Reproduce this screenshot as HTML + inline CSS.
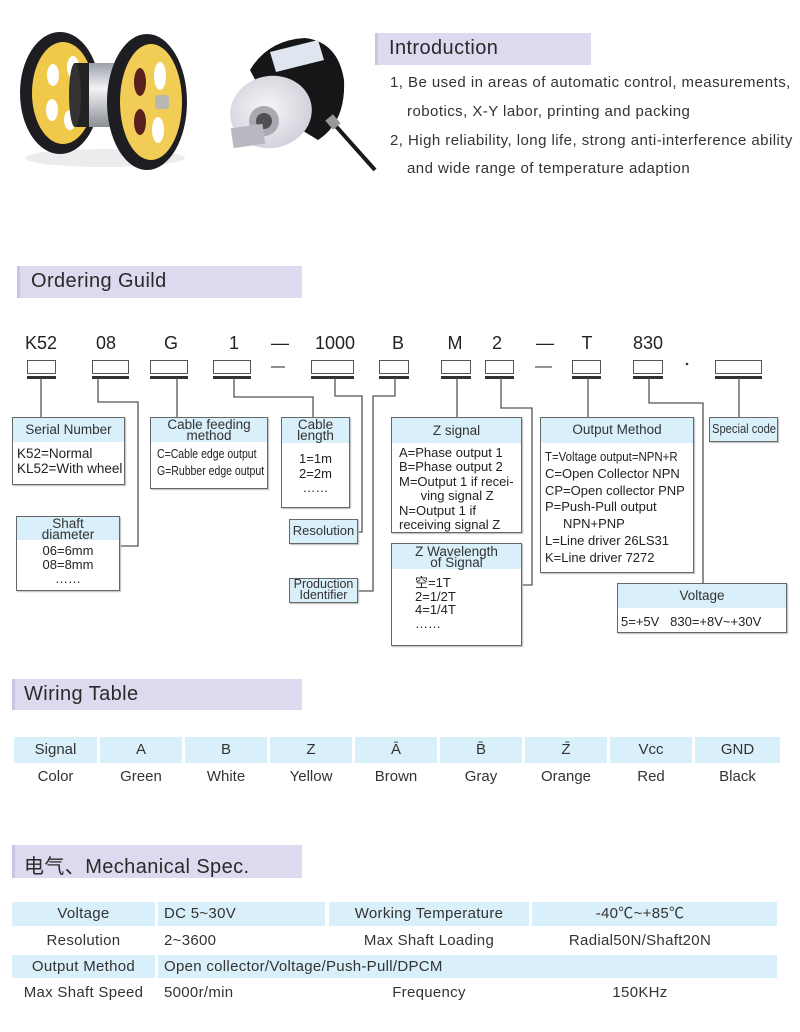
<!DOCTYPE html>
<html><head><meta charset="utf-8">
<style>
*{margin:0;padding:0;box-sizing:border-box}
body{width:800px;height:1032px;background:#fff;position:relative;overflow:hidden;font-family:"Liberation Sans","Noto Sans CJK SC",sans-serif;color:#333}
.a{position:absolute;white-space:nowrap}
.band{position:absolute;background:#dcdaef;border-left:3px solid #c9c5e3}
.band span{position:absolute;left:11px;font-size:20px;color:#2a2a2a;letter-spacing:0.4px;white-space:nowrap}
.intro{font-size:15px;color:#333;letter-spacing:0.45px}
.code{font-size:18px;color:#222;text-align:center;width:60px;margin-left:-30px}
.cb{position:absolute;top:360px;height:14px;border:1px solid #555;background:#fff}
.cb:after{content:"";position:absolute;left:-1px;right:-1px;top:15px;height:3px;background:#333}
.box{position:absolute;border:1.5px solid #666;background:#fff;box-shadow:1px 1px 1px #bbb;white-space:nowrap}
.hd{position:absolute;left:0;right:0;top:0;background:#d9eff9;text-align:center;font-size:13.5px;color:#333}
.ln{position:absolute;font-size:13px;color:#222;white-space:nowrap}
.nar{display:inline-block;transform:scaleX(0.84);transform-origin:left center;white-space:nowrap}
.wt{position:absolute;font-size:15px;text-align:center;color:#333}
.blue{background:#d9eff9}
.ms{position:absolute;font-size:15px;color:#333;letter-spacing:0.3px;white-space:nowrap;line-height:20px;height:20px}
</style></head><body>

<!-- product images -->
<svg class="a" style="left:0;top:0" width="380" height="200">
  <defs>
    <linearGradient id="sil" x1="0" y1="0" x2="0" y2="1">
      <stop offset="0" stop-color="#9aa0a8"/><stop offset="0.4" stop-color="#f2f3f6"/><stop offset="1" stop-color="#8a8f96"/>
    </linearGradient>
    <radialGradient id="face" cx="0.45" cy="0.45" r="0.6">
      <stop offset="0" stop-color="#f6f6fa"/><stop offset="1" stop-color="#cfd0d8"/>
    </radialGradient>
  </defs>
  <ellipse cx="105" cy="158" rx="80" ry="9" fill="#ececee"/>
  <!-- left wheel -->
  <ellipse cx="60" cy="93" rx="40" ry="61" fill="#1e1e22"/>
  <ellipse cx="63" cy="93" rx="31" ry="51" fill="#f1c94a"/>
  <ellipse cx="53" cy="75" rx="6" ry="11" fill="#fff"/>
  <ellipse cx="73" cy="67" rx="6" ry="11" fill="#fff"/>
  <ellipse cx="52" cy="110" rx="6" ry="11" fill="#fff"/>
  <ellipse cx="70" cy="120" rx="6" ry="10" fill="#fff"/>
  <!-- cylinder -->
  <rect x="75" y="63" width="45" height="64" fill="url(#sil)"/>
  <rect x="75" y="63" width="14" height="64" fill="#222"/>
  <ellipse cx="75" cy="95" rx="6" ry="32" fill="#333"/>
  <!-- right wheel -->
  <ellipse cx="147" cy="102" rx="40" ry="68" fill="#1e1e22"/>
  <ellipse cx="151" cy="102" rx="31" ry="58" fill="#f2cd56"/>
  <ellipse cx="160" cy="76" rx="6" ry="14" fill="#fff"/>
  <ellipse cx="140" cy="82" rx="6" ry="14" fill="#5a2020"/>
  <ellipse cx="140" cy="122" rx="6" ry="13" fill="#5a2020"/>
  <ellipse cx="158" cy="130" rx="6" ry="13" fill="#fff"/>
  <rect x="155" y="95" width="14" height="14" rx="3" fill="#b8b8b0"/>
  <!-- encoder -->
  <path d="M250 70 Q268 40 305 38 Q338 42 344 80 Q346 122 318 140 L272 112 Z" fill="#161618"/>
  <path d="M270 52 L318 40 L324 60 L276 72 Z" fill="#dfe6f0"/>
  <ellipse cx="271" cy="112" rx="41" ry="36" fill="url(#face)" transform="rotate(-12 271 112)"/>
  <circle cx="264" cy="121" r="15" fill="#a9a9b1"/>
  <circle cx="264" cy="121" r="8" fill="#505056"/>
  <rect x="232" y="126" width="32" height="20" fill="#b9b9c1" transform="rotate(-8 248 136)"/>
  <path d="M334 124 L375 170" stroke="#1a1a1a" stroke-width="4"/>
  <rect x="328" y="116" width="10" height="12" fill="#999" transform="rotate(-40 333 122)"/>
</svg>

<!-- Introduction -->
<div class="band" style="left:375px;top:33px;width:216px;height:32px"><span style="top:4px">Introduction</span></div>
<div class="a intro" style="left:390px;top:74px">1, Be used in areas of automatic control, measurements,</div>
<div class="a intro" style="left:407px;top:103px">robotics, X-Y labor, printing and packing</div>
<div class="a intro" style="left:390px;top:132px">2, High reliability, long life, strong anti-interference ability</div>
<div class="a intro" style="left:407px;top:160px">and wide range of temperature adaption</div>

<!-- Ordering Guild -->
<div class="band" style="left:17px;top:266px;width:285px;height:32px"><span style="top:4px">Ordering Guild</span></div>

<div class="a code" style="left:41px;top:333px">K52</div>
<div class="a code" style="left:106px;top:333px">08</div>
<div class="a code" style="left:171px;top:333px">G</div>
<div class="a code" style="left:234px;top:333px">1</div>
<div class="a code" style="left:280px;top:333px">—</div>
<div class="a code" style="left:335px;top:333px">1000</div>
<div class="a code" style="left:398px;top:333px">B</div>
<div class="a code" style="left:455px;top:333px">M</div>
<div class="a code" style="left:497px;top:333px">2</div>
<div class="a code" style="left:545px;top:333px">—</div>
<div class="a code" style="left:587px;top:333px">T</div>
<div class="a code" style="left:648px;top:333px">830</div>

<div class="cb" style="left:27px;width:29px"></div>
<div class="cb" style="left:92px;width:37px"></div>
<div class="cb" style="left:150px;width:38px"></div>
<div class="cb" style="left:213px;width:38px"></div>
<div class="cb" style="left:311px;width:43px"></div>
<div class="cb" style="left:379px;width:30px"></div>
<div class="cb" style="left:441px;width:30px"></div>
<div class="cb" style="left:485px;width:29px"></div>
<div class="cb" style="left:572px;width:29px"></div>
<div class="cb" style="left:633px;width:30px"></div>
<div class="cb" style="left:715px;width:47px"></div>

<svg class="a" style="left:0;top:0" width="800" height="700">
  <g stroke="#555" stroke-width="1.3" fill="none">
    <path d="M271 367 H285"/><path d="M535 367 H552"/>
    <path d="M41 378 V417"/>
    <path d="M98 378 V402 H138 V546 H120"/>
    <path d="M177 378 V417"/>
    <path d="M234 378 V397 H313 V417"/>
    <path d="M335 378 V396 H362 V532 H358"/>
    <path d="M395 378 V396 H373 V591 H358"/>
    <path d="M457 378 V417"/>
    <path d="M501 378 V408 H532 V585 H522"/>
    <path d="M588 378 V417"/>
    <path d="M649 378 V403 H703 V583"/>
    <path d="M739 378 V417"/>
  </g>
  <circle cx="687" cy="364" r="1.3" fill="#333"/>
</svg>

<!-- Serial Number -->
<div class="box" style="left:12px;top:417px;width:113px;height:68px">
  <div class="hd" style="height:24px;line-height:24px">Serial Number</div>
  <div class="ln" style="left:4px;top:28px;line-height:15px;font-size:13.5px">K52=Normal<br>KL52=With wheel</div>
</div>
<!-- Cable feeding method -->
<div class="box" style="left:150px;top:417px;width:118px;height:72px">
  <div class="hd" style="height:24px;line-height:11px;padding-top:1px">Cable feeding<br>method</div>
  <div class="ln" style="left:6px;top:28px;line-height:17px;font-size:12.5px"><span class="nar">C=Cable edge output</span><br><span class="nar">G=Rubber edge output</span></div>
</div>
<!-- Shaft diameter -->
<div class="box" style="left:16px;top:516px;width:104px;height:75px">
  <div class="hd" style="height:23px;line-height:11px;padding-top:1px">Shaft<br>diameter</div>
  <div class="ln" style="left:0;right:0;text-align:center;top:27px;line-height:14px">06=6mm<br>08=8mm<br>……</div>
</div>
<!-- Cable length -->
<div class="box" style="left:281px;top:417px;width:69px;height:91px">
  <div class="hd" style="height:25px;line-height:11px;padding-top:1px">Cable<br>length</div>
  <div class="ln" style="left:0;right:0;text-align:center;top:34px;line-height:14.5px">1=1m<br>2=2m<br>……</div>
</div>
<!-- Resolution -->
<div class="box blue" style="left:289px;top:519px;width:69px;height:25px;font-size:13px;text-align:center;line-height:22px">Resolution</div>
<!-- Production Identifier -->
<div class="box blue" style="left:289px;top:578px;width:69px;height:25px;font-size:12.5px;text-align:center;line-height:11px;padding-top:0px">Production<br>Identifier</div>
<!-- Z signal -->
<div class="box" style="left:391px;top:417px;width:131px;height:116px">
  <div class="hd" style="height:25px;line-height:25px">Z signal</div>
  <div class="ln" style="left:7px;top:28px;line-height:14.4px">A=Phase output 1<br>B=Phase output 2<br>M=Output 1 if recei-<br>&nbsp;&nbsp;&nbsp;&nbsp;&nbsp;&nbsp;ving signal Z<br>N=Output 1 if<br>receiving signal Z</div>
</div>
<!-- Z Wavelength -->
<div class="box" style="left:391px;top:543px;width:131px;height:103px">
  <div class="hd" style="height:25px;line-height:11px;padding-top:2px">Z Wavelength<br>of Signal</div>
  <div class="ln" style="left:23px;top:32px;line-height:13.5px">空=1T<br>2=1/2T<br>4=1/4T<br>……</div>
</div>
<!-- Output Method -->
<div class="box" style="left:540px;top:417px;width:154px;height:156px">
  <div class="hd" style="height:25px;line-height:23px">Output Method</div>
  <div class="ln" style="left:4px;top:31px;line-height:16.8px;font-size:13px"><span class="nar" style="transform:scaleX(0.88)">T=Voltage output=NPN+R</span><br>C=Open Collector NPN<br>CP=Open collector PNP<br>P=Push-Pull output<br>&nbsp;&nbsp;&nbsp;&nbsp;&nbsp;NPN+PNP<br>L=Line driver 26LS31<br>K=Line driver 7272</div>
</div>
<!-- Special code -->
<div class="box blue" style="left:709px;top:417px;width:69px;height:25px;font-size:13px;line-height:22px;padding-left:2px"><span class="nar" style="transform:scaleX(0.86)">Special code</span></div>
<!-- Voltage -->
<div class="box" style="left:617px;top:583px;width:170px;height:50px">
  <div class="hd" style="height:24px;line-height:24px">Voltage</div>
  <div class="ln" style="left:3px;top:30px;line-height:15px">5=+5V&nbsp;&nbsp;&nbsp;830=+8V~+30V</div>
</div>

<!-- Wiring Table -->
<div class="band" style="left:12px;top:679px;width:290px;height:31px"><span style="top:4px;left:9px">Wiring Table</span></div>

<div class="wt blue" style="left:14px;top:737px;width:83px;height:26px;line-height:26px">Signal</div>
<div class="wt blue" style="left:100px;top:737px;width:82px;height:26px;line-height:26px">A</div>
<div class="wt blue" style="left:185px;top:737px;width:82px;height:26px;line-height:26px">B</div>
<div class="wt blue" style="left:270px;top:737px;width:82px;height:26px;line-height:26px">Z</div>
<div class="wt blue" style="left:355px;top:737px;width:82px;height:26px;line-height:26px">Ā</div>
<div class="wt blue" style="left:440px;top:737px;width:82px;height:26px;line-height:26px">B̄</div>
<div class="wt blue" style="left:525px;top:737px;width:82px;height:26px;line-height:26px">Z̄</div>
<div class="wt blue" style="left:610px;top:737px;width:82px;height:26px;line-height:26px">Vcc</div>
<div class="wt blue" style="left:695px;top:737px;width:85px;height:26px;line-height:26px">GND</div>

<div class="wt" style="left:14px;top:766px;width:83px;line-height:22px">Color</div>
<div class="wt" style="left:100px;top:766px;width:82px;line-height:22px">Green</div>
<div class="wt" style="left:185px;top:766px;width:82px;line-height:22px">White</div>
<div class="wt" style="left:270px;top:766px;width:82px;line-height:22px">Yellow</div>
<div class="wt" style="left:355px;top:766px;width:82px;line-height:22px">Brown</div>
<div class="wt" style="left:440px;top:766px;width:82px;line-height:22px">Gray</div>
<div class="wt" style="left:525px;top:766px;width:82px;line-height:22px">Orange</div>
<div class="wt" style="left:610px;top:766px;width:82px;line-height:22px">Red</div>
<div class="wt" style="left:695px;top:766px;width:85px;line-height:22px">Black</div>

<!-- Mechanical Spec -->
<div class="band" style="left:12px;top:845px;width:290px;height:33px"><span style="top:5px;left:9px">电气、Mechanical Spec.</span></div>

<div class="a blue" style="left:12px;top:902px;width:143px;height:24px"></div>
<div class="a blue" style="left:158px;top:902px;width:167px;height:24px"></div>
<div class="a blue" style="left:329px;top:902px;width:200px;height:24px"></div>
<div class="a blue" style="left:532px;top:902px;width:245px;height:24px"></div>
<div class="a blue" style="left:12px;top:955px;width:143px;height:23px"></div>
<div class="a blue" style="left:158px;top:955px;width:619px;height:23px"></div>

<div class="ms" style="left:12px;width:143px;text-align:center;top:904px">Voltage</div>
<div class="ms" style="left:164px;top:904px">DC 5~30V</div>
<div class="ms" style="left:329px;width:200px;text-align:center;top:904px">Working Temperature</div>
<div class="ms" style="left:532px;width:216px;text-align:center;top:904px;overflow:hidden">-40℃~+85℃</div>

<div class="ms" style="left:12px;width:143px;text-align:center;top:931px">Resolution</div>
<div class="ms" style="left:164px;top:931px">2~3600</div>
<div class="ms" style="left:329px;width:200px;text-align:center;top:931px">Max Shaft Loading</div>
<div class="ms" style="left:532px;width:216px;text-align:center;top:931px">Radial50N/Shaft20N</div>

<div class="ms" style="left:12px;width:143px;text-align:center;top:957px">Output Method</div>
<div class="ms" style="left:164px;top:957px">Open collector/Voltage/Push-Pull/DPCM</div>

<div class="ms" style="left:12px;width:143px;text-align:center;top:983px">Max Shaft Speed</div>
<div class="ms" style="left:164px;top:983px">5000r/min</div>
<div class="ms" style="left:329px;width:200px;text-align:center;top:983px">Frequency</div>
<div class="ms" style="left:532px;width:216px;text-align:center;top:983px">150KHz</div>

</body></html>
